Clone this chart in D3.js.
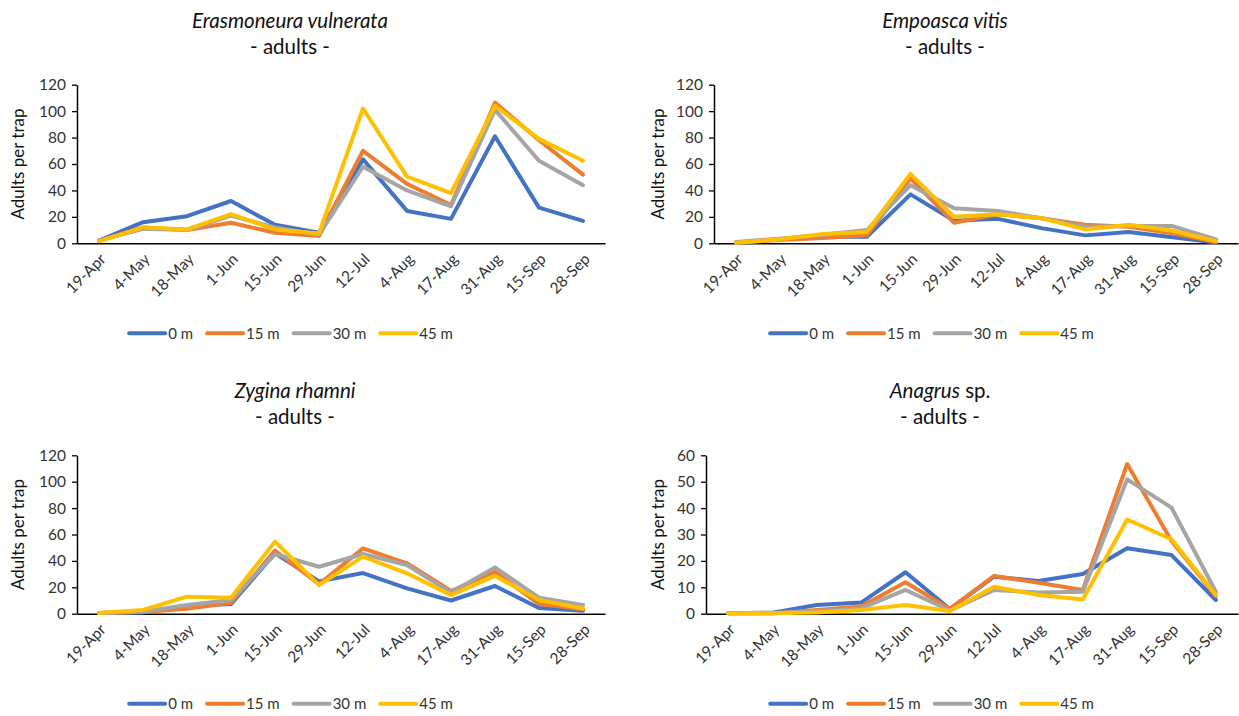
<!DOCTYPE html>
<html>
<head>
<meta charset="utf-8">
<script src="https://cdn.jsdelivr.net/npm/d3@7"></script>
<style>
  html, body { margin: 0; padding: 0; background: #fff; }
  svg { display: block; font-family: Lato, "Open Sans", sans-serif; }
</style>
</head>
<body>
<svg id="chart" width="1239" height="716"></svg>
<script>
// Sampling dates (x categories) and trap distances (series)
const dates = ["19-Apr", "4-May", "18-May", "1-Jun", "15-Jun", "29-Jun", "12-Jul", "4-Aug", "17-Aug", "31-Aug", "15-Sep", "28-Sep"];
const distances = ["0 m", "15 m", "30 m", "45 m"];
const seriesColors = ["#4472C4", "#ED7D31", "#A5A5A5", "#FFC000"];

// Adults per trap, one row per distance (0, 15, 30, 45 m)
const erasmoneura = [
  [2, 16, 20.5, 32, 14, 8, 63.5, 24.5, 18.5, 81, 27, 17],
  [2, 12, 10, 15.5, 8, 5.5, 70, 45, 29, 106.5, 78, 52],
  [2, 11, 10, 21, 12, 6.5, 58, 40, 28, 101, 62.5, 44],
  [1.5, 12, 10.5, 22, 10.5, 7.5, 102, 50.5, 38, 104, 79, 62.5]
];
const empoasca = [
  [0.5, 3, 5, 5, 37, 17, 18.5, 11.5, 6, 8.5, 4.5, 0.5],
  [0.5, 2.5, 4, 6, 49, 15.5, 22, 19, 14, 12.5, 7.5, 1],
  [1, 3.5, 6.5, 10, 44, 26.5, 24.5, 19, 12.5, 13, 13, 3],
  [0.5, 3, 7, 8.5, 52.5, 20, 22, 19, 10.5, 14, 9.5, 1.5]
];
const zygina = [
  [0.5, 1, 5.8, 7.3, 45.7, 24.5, 30.8, 19.2, 10, 21, 4.3, 2.3],
  [0.5, 1.3, 3.8, 8.3, 47.8, 22.3, 49.5, 38.2, 17.2, 31.8, 7.3, 3.3],
  [0.5, 1.5, 6.6, 10.4, 45.2, 35.6, 45.2, 36.9, 16, 35.1, 12.1, 6.6],
  [0.5, 2.8, 12.9, 12.1, 54.6, 21.7, 43.2, 30.6, 14.1, 28.6, 10.4, 4]
];
const anagrus = [
  [0.2, 0.4, 3.3, 4.2, 15.7, 1.8, 14, 12.4, 15, 24.8, 22.2, 5.2],
  [0.2, 0.2, 1.4, 2.7, 11.9, 1.8, 14.3, 11.7, 9, 56.7, 27.5, 6.7],
  [0.2, 0.2, 1, 2, 9, 1.2, 9, 8, 8.3, 50.9, 40.2, 8.3],
  [0.2, 0.2, 0.5, 1.4, 3.3, 1, 10.2, 7.1, 5.4, 35.7, 28.2, 7.1]
];

// y-axis settings for each species
const yMaxima = [120, 120, 120, 60];
const yTickSteps = [20, 20, 20, 10];

// Panel layout: plot area bounds and centre lines for titles/legends
const panels = [
  { data: erasmoneura, name: "Erasmoneura vulnerata", suffix: "", x0: 77, x1: 605, y0: 84.7, y1: 243.3, cx: 290, legX: 291, labX: 18 },
  { data: empoasca, name: "Empoasca vitis", suffix: "", x0: 714, x1: 1238, y0: 84.7, y1: 243.3, cx: 945, legX: 932, labX: 658 },
  { data: zygina, name: "Zygina rhamni", suffix: "", x0: 77, x1: 605, y0: 455.3, y1: 613.7, cx: 295, legX: 291, labX: 18 },
  { data: anagrus, name: "Anagrus", suffix: " sp.", x0: 706, x1: 1238, y0: 455.3, y1: 613.7, cx: 940, legX: 932, labX: 658 }
];

const svg = d3.select("#chart");

panels.forEach((p, pi) => {
  const g = svg.append("g");

  const x = d3.scaleBand().domain(dates).range([p.x0, p.x1]);
  const xc = d => x(d) + x.bandwidth() / 2;
  const y = d3.scaleLinear().domain([0, yMaxima[pi]]).range([p.y1, p.y0]);

  // Title (species name in italics) and subtitle
  const t = g.append("text")
    .attr("x", p.cx).attr("y", p.y0 - 57)
    .attr("text-anchor", "middle")
    .attr("font-size", 20.5).attr("fill", "#111");
  t.append("tspan").attr("font-style", "italic").text(p.name);
  if (p.suffix) t.append("tspan").text(p.suffix);
  g.append("text")
    .attr("x", p.cx).attr("y", p.y0 - 31)
    .attr("text-anchor", "middle")
    .attr("font-size", 20.5).attr("fill", "#111")
    .text("- adults -");

  // y axis
  const yAxis = d3.axisLeft(y)
    .tickValues(d3.range(0, yMaxima[pi] + 0.001, yTickSteps[pi]))
    .tickSizeOuter(0).tickSizeInner(5).tickPadding(6);
  const ya = g.append("g").attr("transform", `translate(${p.x0},0)`).call(yAxis);
  ya.select(".domain").attr("stroke", "#000").attr("stroke-width", 1.5);
  ya.selectAll(".tick line").attr("stroke", "#000").attr("stroke-width", 1.3);
  ya.selectAll(".tick text").attr("font-size", 15.5).attr("fill", "#333")
    .attr("font-family", "Lato, sans-serif");

  // y axis title
  g.append("text")
    .attr("transform", `translate(${p.labX + 6},${(p.y0 + p.y1) / 2}) rotate(-90)`)
    .attr("text-anchor", "middle")
    .attr("font-size", 17).attr("fill", "#111")
    .text("Adults per trap");

  // x axis with rotated date labels
  const xAxis = d3.axisBottom(x).tickSize(0).tickPadding(0);
  const xa = g.append("g").attr("transform", `translate(0,${p.y1})`).call(xAxis);
  xa.select(".domain").attr("stroke", "#000").attr("stroke-width", 1.5);
  xa.selectAll(".tick text")
    .attr("font-size", 15.5).attr("fill", "#333")
    .attr("font-family", "Lato, sans-serif")
    .attr("text-anchor", "end")
    .attr("dy", "0.35em")
    .attr("transform", "translate(4,13) rotate(-45)");

  // Series lines
  const line = d3.line().x((d, i) => xc(dates[i])).y(d => y(d));
  p.data.forEach((vals, si) => {
    g.append("path")
      .datum(vals)
      .attr("fill", "none")
      .attr("stroke", seriesColors[si])
      .attr("stroke-width", 4)
      .attr("stroke-linejoin", "round")
      .attr("stroke-linecap", "round")
      .attr("d", line);
  });

  // Legend, centred under the plot
  const legY = p.y1 + 90;
  const leg = g.append("g");
  let cursor = 0;
  distances.forEach((name, si) => {
    const item = leg.append("g").attr("transform", `translate(${cursor},0)`);
    item.append("line")
      .attr("x1", 0).attr("x2", 36).attr("y1", 0).attr("y2", 0)
      .attr("stroke", seriesColors[si]).attr("stroke-width", 4)
      .attr("stroke-linecap", "round");
    const lbl = item.append("text")
      .attr("x", 39).attr("y", 0).attr("dy", "0.35em")
      .attr("font-size", 15).attr("fill", "#333")
      .text(name);
    cursor += 39 + lbl.node().getComputedTextLength() + 14;
  });
  const legW = cursor - 14;
  leg.attr("transform", `translate(${p.legX - legW / 2},${legY})`);
});
</script>
</body>
</html>
